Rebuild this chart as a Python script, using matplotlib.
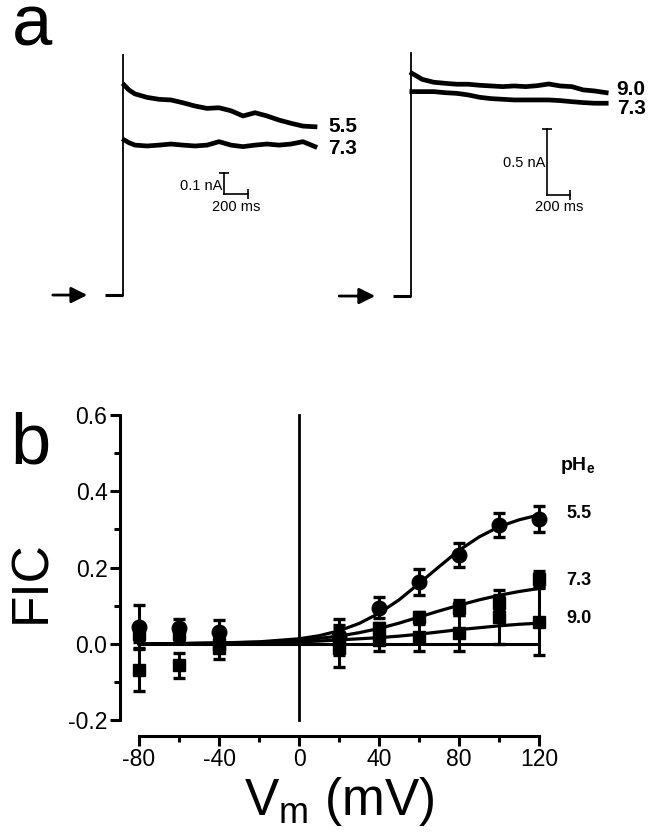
import matplotlib
matplotlib.use('Agg')
import matplotlib.pyplot as plt

plt.rcParams['font.family'] = ['Liberation Sans', 'DejaVu Sans']

# ---- panel a: current traces (time in ms, current in nA) ----
t_left = [10, 50, 100, 200, 300, 400, 500, 600, 700, 800, 900, 1000, 1100, 1200, 1300, 1400, 1500, 1600]
i_left_55 = [0.972, 0.949, 0.931, 0.915, 0.906, 0.903, 0.890, 0.875, 0.864, 0.867, 0.853, 0.829, 0.844,
             0.829, 0.810, 0.795, 0.782, 0.779]
i_left_73 = [0.718, 0.705, 0.694, 0.690, 0.694, 0.699, 0.694, 0.690, 0.694, 0.710, 0.694, 0.687, 0.694,
             0.699, 0.694, 0.699, 0.710, 0.687]
t_right = [10, 50, 100, 200, 300, 400, 500, 600, 700, 800, 900, 1000, 1100, 1200, 1300, 1400, 1500, 1600, 1700]
i_right_90 = [1.687, 1.667, 1.641, 1.619, 1.611, 1.604, 1.604, 1.596, 1.591, 1.586, 1.591, 1.586, 1.593,
              1.606, 1.591, 1.586, 1.561, 1.553, 1.540]
i_right_73 = [1.548, 1.548, 1.548, 1.548, 1.540, 1.535, 1.523, 1.505, 1.495, 1.490, 1.485, 1.485, 1.485,
              1.485, 1.480, 1.472, 1.465, 1.460, 1.460]

# ---- panel b: FIC vs Vm ----
vm = [-80, -60, -40, 20, 40, 60, 80, 100, 120]
fic_55 = [0.045, 0.040, 0.032, 0.020, 0.095, 0.163, 0.233, 0.312, 0.327]
err_55 = [0.057, 0.025, 0.030, 0.045, 0.027, 0.034, 0.032, 0.032, 0.035]
fic_73 = [0.025, 0.025, 0.000, 0.010, 0.040, 0.069, 0.095, 0.108, 0.170]
err_73 = [0.020, 0.020, 0.020, 0.040, 0.015, 0.015, 0.020, 0.020, 0.020]
fic_90 = [-0.070, -0.057, -0.010, -0.010, 0.010, 0.017, 0.028, 0.070, 0.058]
err_90 = [0.055, 0.033, 0.030, 0.050, 0.028, 0.035, 0.047, 0.070, 0.088]

fit_v = [-80, -60, -40, -20, 0, 10, 20, 30, 40, 50, 60, 70, 80, 90, 100, 110, 120]
fit_55 = [0.0, 0.0005, 0.002, 0.005, 0.013, 0.021, 0.034, 0.053, 0.080, 0.115, 0.158, 0.202, 0.245,
          0.280, 0.307, 0.325, 0.338]
fit_73 = [0.0, 0.0005, 0.002, 0.004, 0.009, 0.014, 0.020, 0.029, 0.040, 0.054, 0.070, 0.086, 0.101,
          0.115, 0.127, 0.137, 0.145]
fit_90 = [0.0, 0.0003, 0.001, 0.003, 0.005, 0.007, 0.010, 0.013, 0.016, 0.020, 0.025, 0.031, 0.037,
          0.042, 0.047, 0.051, 0.054]

fig = plt.figure(figsize=(6.53, 8.35), dpi=100)


def trace_panel(ax, t, traces, labels, label_t, label_i, step_top, base_t0, arrow_t, bar):
  ax.plot([base_t0, 0], [0, 0], color='k', lw=2.2, solid_capstyle='butt')
  ax.plot([0, 0], [0, step_top], color='k', lw=1.3)
  for cur in traces:
    ax.plot(t, cur, color='k', lw=3.4, solid_joinstyle='round')
  for lab, li in zip(labels, label_i):
    ax.text(label_t, li, lab, fontsize=15, fontweight='bold', va='center', ha='left')
  ax.annotate('', xy=(arrow_t[1], 0), xytext=(arrow_t[0], 0),
              arrowprops=dict(arrowstyle='-|>', color='k', lw=2, mutation_scale=24))
  # scale bar
  bt, bi, dt, di, lab_i, lab_t, ms_i = bar
  ax.plot([bt, bt], [bi, bi + di], color='k', lw=1.2)
  ax.plot([bt, bt + dt], [bi, bi], color='k', lw=1.2)
  ax.plot([bt], [bi + di], marker='_', color='k', ms=7, mew=1.2)
  ax.plot([bt + dt], [bi], marker='|', color='k', ms=7, mew=1.2)
  ax.text(bt - 15, lab_i, lab_t, fontsize=10.5, ha='right', va='center')
  ax.text(bt + dt / 2, ms_i, '200 ms', fontsize=10.5, ha='center', va='center')
  ax.axis('off')


ax_l = fig.add_axes([0, 0.6287, 330 / 653, 0.3234])
ax_l.set_xlim(-1025, 1725)
ax_l.set_ylim(-0.0694, 1.1806)
trace_panel(ax_l, t_left, [i_left_55, i_left_73], ['5.5', '7.3'], 1708, [0.782, 0.680],
            1.111, -150, (-608, -275), (844, 0.466, 200, 0.1, 0.505, '0.1 nA', 0.409))

ax_r = fig.add_axes([330 / 653, 0.6287, 323 / 653, 0.3234])
ax_r.set_xlim(-701.7, 2107)
ax_r.set_ylim(-0.106, 1.939)
trace_panel(ax_r, t_right, [i_right_90, i_right_73], ['9.0', '7.3'], 1791, [1.565, 1.420],
            1.841, -157, (-646, -285), (1188, 0.765, 200, 0.5, 1.005, '0.5 nA', 0.677))

fig.text(12 / 653, 1 - 46 / 835, 'a', fontsize=52, ha='left', va='baseline')

# ---- panel b ----
ax = fig.add_axes([120 / 653, 99 / 835, 429 / 653, 328.6 / 835])
ax.set_xlim(-89.5, 125)
ax.set_ylim(-0.242, 0.62)

ax.plot([-80, 120], [0, 0], color='k', lw=2.2)
ax.plot([0, 0], [-0.2, 0.6], color='k', lw=2.0)

ax.plot(fit_v, fit_90, color='k', lw=2.3)
ax.plot(fit_v, fit_73, color='k', lw=2.3)
ax.plot(fit_v, fit_55, color='k', lw=2.3)
ax.errorbar(vm, fic_90, yerr=err_90, fmt='s', color='k', ms=9, capsize=4.5, capthick=2.4, elinewidth=2.2)
ax.errorbar(vm, fic_73, yerr=err_73, fmt='s', color='k', ms=9, capsize=4.5, capthick=2.4, elinewidth=2.2)
ax.errorbar(vm, fic_55, yerr=err_55, fmt='o', color='k', ms=10.5, capsize=4.5, capthick=2.4, elinewidth=2.2)

for s in ['top', 'right']:
  ax.spines[s].set_visible(False)
ax.spines['left'].set_bounds(-0.2, 0.6)
ax.spines['bottom'].set_bounds(-80, 120)
ax.spines['left'].set_linewidth(2.2)
ax.spines['bottom'].set_linewidth(2.2)
ax.set_yticks([-0.2, 0.0, 0.2, 0.4, 0.6])
ax.set_yticklabels(['-0.2', '0.0', '0.2', '0.4', '0.6'])
ax.set_yticks([-0.1, 0.1, 0.3, 0.5], minor=True)
ax.set_xticks([-80, -40, 0, 40, 80, 120])
ax.set_xticklabels(['-80', '-40', '0', '40', '80', '120'])
ax.set_xticks([-60, -20, 20, 60, 100], minor=True)
ax.tick_params(which='major', length=7, width=2.2, labelsize=16.5, pad=2)
ax.tick_params(which='minor', length=4, width=2.2)

ax.text(130.5, 0.467, 'pH$_\\mathregular{e}$', fontsize=14, fontweight='bold', ha='left', va='center')
ax.text(133.8, 0.342, '5.5', fontsize=13, fontweight='bold', ha='left', va='center')
ax.text(133.8, 0.167, '7.3', fontsize=13, fontweight='bold', ha='left', va='center')
ax.text(133.8, 0.067, '9.0', fontsize=13, fontweight='bold', ha='left', va='center')

fig.text(10 / 653, 1 - 463 / 835, 'b', fontsize=52, ha='left', va='baseline')
fig.text(32 / 653, 1 - 582 / 835, 'FIC', fontsize=37, rotation=90, ha='center', va='center')
fig.text(339 / 653, 1 - 815 / 835, 'V$_\\mathregular{m}$ (mV)', fontsize=37, ha='center', va='baseline')

plt.savefig('out.png', dpi=100)
